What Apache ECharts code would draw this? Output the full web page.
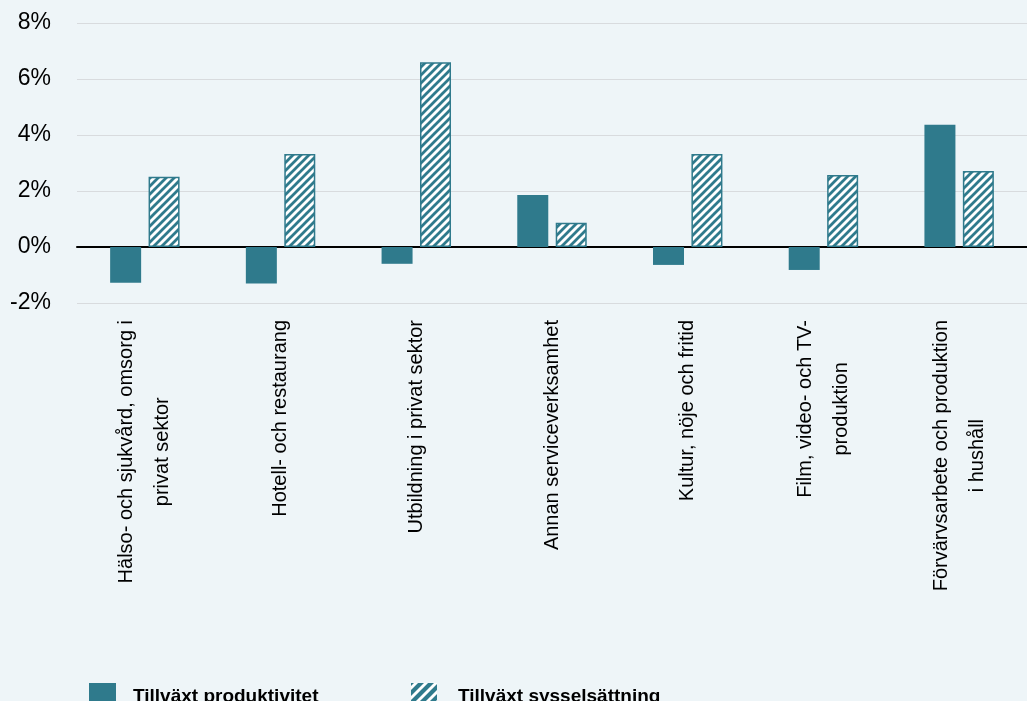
<!DOCTYPE html>
<html>
<head>
<meta charset="utf-8">
<script src="https://cdn.jsdelivr.net/npm/echarts@6/dist/echarts.min.js"></script>
<style>
html,body{margin:0;padding:0;background:#EEF5F8;overflow:hidden;}
#chart{width:1027px;height:701px;}
</style>
</head>
<body>
<div id="chart"></div>
<script>
const categories = [
  'Hälso- och sjukvård, omsorg i\nprivat sektor',
  'Hotell- och restaurang',
  'Utbildning i privat sektor',
  'Annan serviceverksamhet',
  'Kultur, nöje och fritid',
  'Film, video- och TV-\nproduktion',
  'Förvärvsarbete och produktion\ni hushåll'
];
const seriesNames = ['Tillväxt produktivitet', 'Tillväxt sysselsättning'];
const productivity = [-1.28, -1.30, -0.60, 1.86, -0.64, -0.82, 4.37];
const employment = [2.51, 3.32, 6.60, 0.87, 3.32, 2.57, 2.71];
const yMin = -2, yMax = 8, yStep = 2;

const TEAL = '#2F7A8C';

function makeHatch(s, w) {
  const c = document.createElement('canvas');
  c.width = s; c.height = s;
  const g = c.getContext('2d');
  g.fillStyle = '#ffffff';
  g.fillRect(0, 0, s, s);
  g.strokeStyle = TEAL;
  g.lineWidth = w;
  g.beginPath();
  g.moveTo(-s, 2 * s); g.lineTo(2 * s, -s);
  g.moveTo(-s, s); g.lineTo(s, -s);
  g.moveTo(0, 2 * s); g.lineTo(2 * s, 0);
  g.stroke();
  return c;
}
const hatch = { image: makeHatch(8, 2.8), repeat: 'repeat' };
const legendHatch = { image: makeHatch(10, 4.2), repeat: 'repeat' };

const chart = echarts.init(document.getElementById('chart'), null, { renderer: 'canvas' });
const labelFont = '"Liberation Sans", Arial, sans-serif';

chart.setOption({
  backgroundColor: '#EEF5F8',
  animation: false,
  grid: { left: 77, width: 959, top: 23, bottom: 398, containLabel: false },
  legend: [
    {
      data: [seriesNames[0]], left: 84, top: 678, itemWidth: 27, itemHeight: 27, icon: 'rect',
      textStyle: { fontFamily: labelFont, fontSize: 19, fontWeight: 'bold', color: '#000', padding: [0, 0, 12, 12] }
    },
    {
      data: [{ name: seriesNames[1], itemStyle: { color: legendHatch, borderWidth: 0 } }],
      left: 406, top: 678, itemWidth: 26, itemHeight: 27, icon: 'rect',
      textStyle: { fontFamily: labelFont, fontSize: 19, fontWeight: 'bold', color: '#000', padding: [0, 0, 12, 16] }
    }
  ],
  xAxis: [
    {
      type: 'category', data: categories, position: 'bottom',
      axisLine: { show: false, onZero: false },
      axisTick: { show: false },
      axisLabel: {
        interval: 0, rotate: 90, margin: 17, color: '#000',
        fontFamily: labelFont, fontSize: 20, lineHeight: 36,
        formatter: v => v.split('\n').map(l => '{c|' + l + '}').join('\n'),
        rich: { c: { align: 'center', fontFamily: labelFont, fontSize: 20, lineHeight: 36, color: '#000' } }
      }
    },
    {
      type: 'category', data: categories, position: 'top',
      axisLine: { show: true, onZero: true, lineStyle: { color: '#000', width: 2 } },
      axisTick: { show: false }, axisLabel: { show: false }
    }
  ],
  yAxis: {
    type: 'value', min: yMin, max: yMax, interval: yStep,
    axisLine: { show: false }, axisTick: { show: false },
    axisLabel: { formatter: '{value}%', fontFamily: labelFont, fontSize: 23, color: '#000', margin: 26 },
    splitLine: { lineStyle: { color: '#D8DBDE', width: 1 } }
  },
  series: [
    {
      name: seriesNames[0], type: 'bar', data: productivity, barWidth: 31, barGap: '24%',
      itemStyle: { color: TEAL }
    },
    {
      name: seriesNames[1], type: 'bar', data: employment, barWidth: 31,
      itemStyle: { color: hatch, borderColor: TEAL, borderWidth: 1.5 }
    }
  ]
});
</script>
</body>
</html>
